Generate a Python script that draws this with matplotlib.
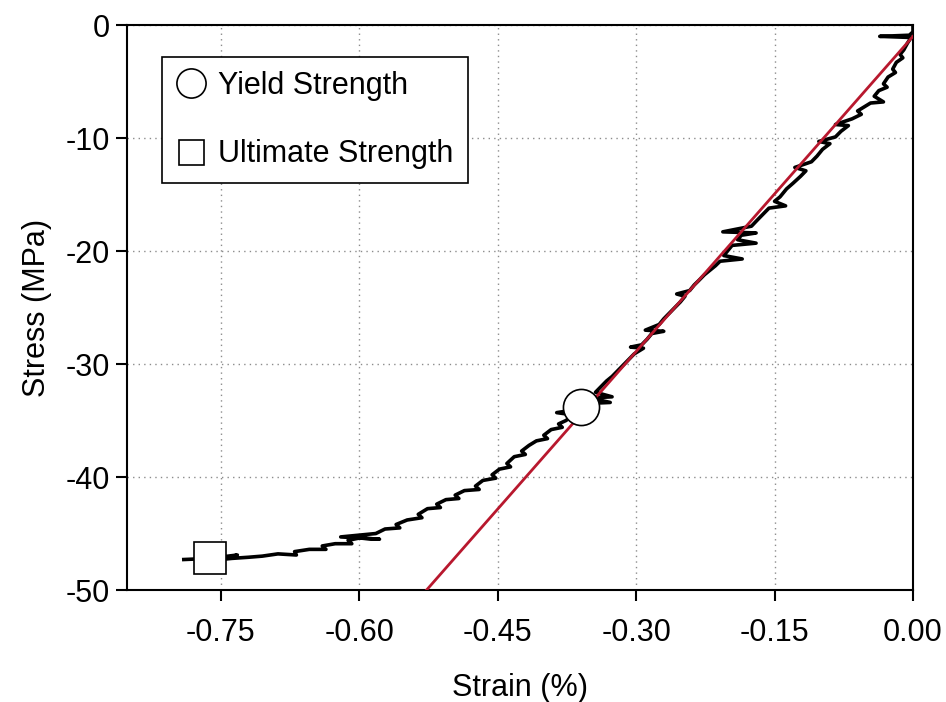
import matplotlib
matplotlib.use("Agg")
import matplotlib.pyplot as plt
from matplotlib.lines import Line2D

plt.rcParams['font.family'] = ['Liberation Sans', 'DejaVu Sans']
plt.rcParams['axes.unicode_minus'] = False

# compression test record (strain in %, stress in MPa), with the logger's
# horizontal spikes kept as recorded
strain = [0.000, 0.000, -0.004, -0.036, -0.002, -0.006, -0.010, -0.014, -0.011, -0.018,
          -0.022, -0.019, -0.027, -0.032, -0.028, -0.037, -0.042, -0.032, -0.046, -0.052,
          -0.060, -0.056, -0.066, -0.084, -0.070, -0.078, -0.084, -0.102, -0.090, -0.098,
          -0.104, -0.110, -0.128, -0.116, -0.122, -0.130, -0.137, -0.144, -0.150, -0.138,
          -0.156, -0.162, -0.168, -0.175, -0.206, -0.170, -0.186, -0.190, -0.170, -0.196,
          -0.200, -0.205, -0.185, -0.209, -0.214, -0.220, -0.226, -0.232, -0.237, -0.242,
          -0.256, -0.247, -0.252, -0.258, -0.264, -0.270, -0.275, -0.290, -0.270, -0.283,
          -0.288, -0.294, -0.306, -0.292, -0.302, -0.308, -0.314, -0.320, -0.326, -0.332,
          -0.338, -0.344, -0.326, -0.350, -0.328, -0.356, -0.362, -0.386, -0.368, -0.376,
          -0.384, -0.380, -0.392, -0.400, -0.396, -0.408, -0.416, -0.424, -0.420, -0.432,
          -0.440, -0.436, -0.448, -0.456, -0.452, -0.466, -0.474, -0.470, -0.486, -0.496,
          -0.492, -0.506, -0.516, -0.512, -0.526, -0.536, -0.532, -0.548, -0.560, -0.556,
          -0.572, -0.582, -0.620, -0.578, -0.600, -0.612, -0.608, -0.626, -0.640, -0.636,
          -0.654, -0.670, -0.668, -0.688, -0.705, -0.720, -0.738, -0.750, -0.732, -0.762,
          -0.790]
stress = [0.0, -0.6, -0.9, -1.0, -1.1, -1.6, -2.2, -2.6, -2.9, -3.3,
          -3.9, -4.2, -4.6, -5.2, -5.5, -5.8, -6.3, -6.8, -6.9, -7.2,
          -7.6, -7.9, -8.3, -8.8, -8.9, -9.4, -9.9, -10.3, -10.5, -11.0,
          -11.6, -12.1, -12.6, -12.9, -13.4, -14.0, -14.5, -15.2, -15.6, -16.0,
          -16.2, -16.7, -17.2, -17.8, -18.3, -18.4, -18.6, -19.0, -19.3, -19.5,
          -19.9, -20.4, -20.7, -20.9, -21.3, -21.7, -22.1, -22.6, -23.0, -23.5,
          -23.8, -24.0, -24.5, -25.0, -25.5, -26.0, -26.5, -27.0, -27.1, -27.3,
          -27.8, -28.3, -28.5, -28.6, -29.1, -29.6, -30.1, -30.6, -31.1, -31.5,
          -32.0, -32.5, -32.9, -33.0, -33.4, -33.5, -34.0, -34.3, -34.5, -35.0,
          -35.3, -35.6, -35.8, -36.3, -36.6, -36.8, -37.2, -37.7, -38.0, -38.2,
          -38.8, -39.1, -39.3, -39.8, -40.1, -40.3, -40.8, -41.1, -41.2, -41.6,
          -41.9, -42.0, -42.4, -42.7, -42.8, -43.3, -43.6, -43.8, -44.2, -44.5,
          -44.6, -45.0, -45.3, -45.5, -45.4, -45.6, -45.9, -45.9, -46.1, -46.4,
          -46.4, -46.6, -46.9, -46.8, -47.0, -47.1, -47.2, -47.3, -46.9, -47.2,
          -47.3]

# linear fit of the elastic region
fit_strain = [0.0, -0.527]
fit_stress = [-1.0, -50.0]

yield_pt = (-0.360, -33.8)
ultimate_pt = (-0.762, -47.2)

xticks = [-0.75, -0.60, -0.45, -0.30, -0.15, 0.00]
yticks = [0, -10, -20, -30, -40, -50]

fig = plt.figure(figsize=(9.46, 7.02), dpi=100)
ax = fig.add_axes([0.1342, 0.1595, 0.8309, 0.8048])

ax.plot(strain, stress, color='black', lw=2.6, zorder=3)
ax.plot(fit_strain, fit_stress, color='#b8182e', lw=2.0, zorder=4)
ax.plot(*yield_pt, marker='o', ms=26, mfc='white', mec='black', mew=1.2,
        ls='none', zorder=5)
ax.plot(*ultimate_pt, marker='s', ms=23, mfc='white', mec='black', mew=1.2,
        ls='none', zorder=5)

ax.set_xlim(-0.8516, 0)
ax.set_ylim(-50, 0)
ax.set_xticks(xticks)
ax.set_xticklabels([f'{v:.2f}' for v in xticks])
ax.set_yticks(yticks)
ax.set_yticklabels([str(v) for v in yticks])

ax.grid(True, ls=(0, (1, 3)), color='#8c8c8c', lw=1.0, zorder=0)
ax.set_axisbelow(True)
for s in ax.spines.values():
    s.set_linewidth(1.5)
ax.tick_params(direction='out', length=8, width=1.5, labelsize=22)
ax.tick_params(axis='y', pad=4)
ax.tick_params(axis='x', pad=12)

ax.set_xlabel('Strain (%)', fontsize=22, labelpad=18)
ax.set_ylabel('Stress (MPa)', fontsize=22, labelpad=10)

handles = [
    Line2D([], [], marker='o', ls='none', ms=21, mfc='white', mec='black', mew=1.2),
    Line2D([], [], marker='s', ls='none', ms=18, mfc='white', mec='black', mew=1.2),
]
leg = ax.legend(handles, ['Yield Strength', 'Ultimate Strength'],
                loc='upper left', bbox_to_anchor=(0.0445, 0.943),
                borderaxespad=0, fontsize=22, labelspacing=1.25,
                handlelength=1.0, handletextpad=0.4, borderpad=0.45,
                fancybox=False, framealpha=1, edgecolor='black')
leg.get_frame().set_linewidth(1.2)

fig.savefig('out.png', dpi=100)
